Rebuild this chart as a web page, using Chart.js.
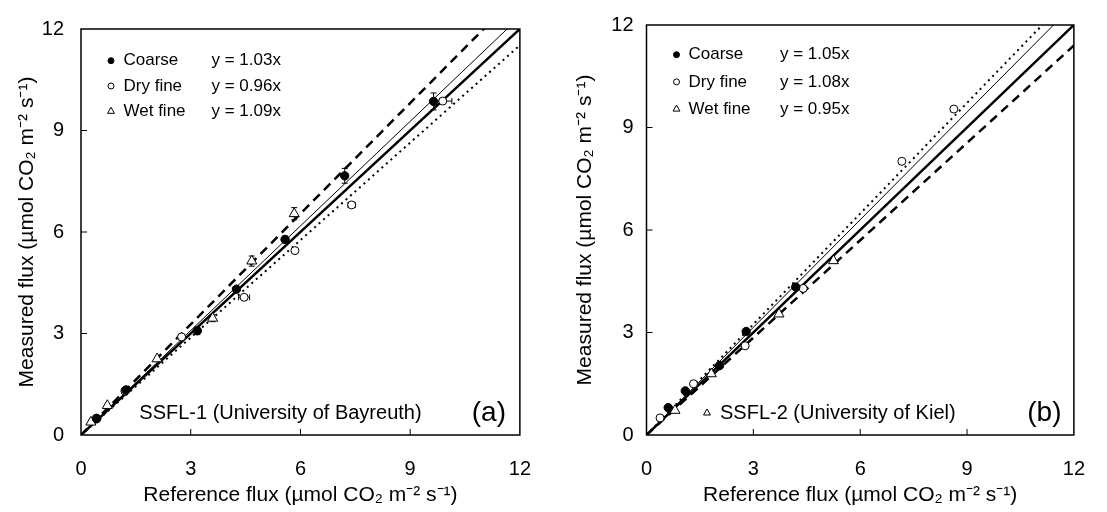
<!DOCTYPE html>
<html>
<head>
<meta charset="utf-8">
<script src="https://cdn.jsdelivr.net/npm/chart.js@4.4.1/dist/chart.umd.min.js"></script>
<style>
  html, body { margin: 0; padding: 0; background: #fff; }
  #wrap { position: relative; width: 1107px; height: 512px; }
  .panel { position: absolute; top: 0; }
  #panelA { left: 0; }
  #panelB { left: 553px; }
</style>
</head>
<body>
<div id="wrap">
  <div class="panel" id="panelA"><canvas id="chartA" width="553" height="512"></canvas></div>
  <div class="panel" id="panelB"><canvas id="chartB" width="554" height="512"></canvas></div>
</div>
<script>
// series names and axis ticks
const seriesNames = ["Coarse", "Dry fine", "Wet fine"];
const tickValues = [0, 3, 6, 9, 12];

// panel (a) - SSFL-1, [reference, measured]
const coarseA = [[0.43, 0.48], [1.23, 1.33], [3.18, 3.08], [4.25, 4.31], [5.58, 5.78], [7.21, 7.66], [9.64, 9.86]];
const dryFineA = [[0.42, 0.50], [1.20, 1.30], [2.75, 2.90], [4.46, 4.07], [5.85, 5.45], [7.40, 6.80], [9.89, 9.87]];
const wetFineA = [[0.27, 0.38], [0.72, 0.87], [2.08, 2.25], [3.60, 3.45], [4.67, 5.14], [5.83, 6.54]];
const slopesA = [1.03, 0.96, 1.09];
// error bars seen in panel (a): vertical for coarse / wet fine, horizontal for dry fine
const coarseErrA = [0, 0, 0.1, 0, 0.1, 0.22, 0.25];
const dryFineErrA = [0, 0, 0, 0.15, 0, 0.1, 0.25];
const wetFineErrA = [0, 0, 0, 0.1, 0.15, 0.18];

// panel (b) - SSFL-2
const coarseB = [[0.61, 0.80], [1.09, 1.29], [2.05, 2.03], [2.80, 3.03], [4.19, 4.33]];
const dryFineB = [[0.38, 0.50], [1.32, 1.50], [2.77, 2.61], [4.40, 4.29], [7.17, 8.01], [8.63, 9.54]];
const wetFineB = [[0.80, 0.72], [1.82, 1.79], [3.72, 3.54], [5.25, 5.10]];
const slopesB = [1.05, 1.08, 0.95];

const FONT = '"Liberation Sans", Arial, sans-serif';
const xTitle = "Reference flux (\u00b5mol CO\u2082 m\u207b\u00b2 s\u207b\u00b9)";
const yTitle = "Measured flux (\u00b5mol CO\u2082 m\u207b\u00b2 s\u207b\u00b9)";

// marker / line look for Coarse, Dry fine, Wet fine
const markers = [
  { pointStyle: "circle", fill: "#000", radius: 4.2 },
  { pointStyle: "circle", fill: "#fff", radius: 4 },
  { pointStyle: "triangle", fill: "#fff", radius: 5.8 }
];
const lineLook = [
  { borderWidth: 1, borderDash: [] },
  { borderWidth: 2, borderDash: [2, 4] },
  { borderWidth: 2.5, borderDash: [9, 6] }
];

function toXY(arr) {
  return arr.map(p => ({ x: p[0], y: p[1] }));
}

function drawMark(ctx, i, x, y, r) {
  ctx.fillStyle = markers[i].fill;
  ctx.strokeStyle = "#000";
  ctx.lineWidth = 1;
  Chart.helpers.drawPoint(ctx, { pointStyle: markers[i].pointStyle, radius: r, borderWidth: 1, rotation: 0 }, x, y);
}

// error bars, drawn under the markers
const errorBarPlugin = {
  id: "errbars",
  beforeDatasetsDraw(chart, args, opts) {
    if (!opts.pts) return;
    const { ctx, scales: { x, y } } = chart;
    ctx.save();
    ctx.strokeStyle = "#000";
    ctx.lineWidth = 1;
    ctx.beginPath();
    opts.pts.forEach((pts, s) => {
      pts.forEach((p, k) => {
        const e = opts.errs[s][k];
        if (!e) return;
        const px = x.getPixelForValue(p[0]), py = y.getPixelForValue(p[1]);
        if (opts.horiz[s]) {
          const x1 = x.getPixelForValue(p[0] - e), x2 = x.getPixelForValue(p[0] + e);
          ctx.moveTo(x1, py); ctx.lineTo(x2, py);
          ctx.moveTo(x1, py - 3); ctx.lineTo(x1, py + 3);
          ctx.moveTo(x2, py - 3); ctx.lineTo(x2, py + 3);
        } else {
          const y1 = y.getPixelForValue(p[1] - e), y2 = y.getPixelForValue(p[1] + e);
          ctx.moveTo(px, y1); ctx.lineTo(px, y2);
          ctx.moveTo(px - 3, y1); ctx.lineTo(px + 3, y1);
          ctx.moveTo(px - 3, y2); ctx.lineTo(px + 3, y2);
        }
      });
    });
    ctx.stroke();
    ctx.restore();
  }
};

const panelPlugin = {
  id: "panel",
  afterDraw(chart, args, opts) {
    const { ctx, chartArea: a, scales } = chart;
    const x = scales.x, y = scales.y;
    ctx.save();
    // frame + inward ticks
    ctx.strokeStyle = "#000";
    ctx.lineWidth = 1.5;
    ctx.strokeRect(a.left, a.top, a.right - a.left, a.bottom - a.top);
    ctx.lineWidth = 1;
    ctx.beginPath();
    tickValues.slice(1, -1).forEach(v => {
      const px = x.getPixelForValue(v), py = y.getPixelForValue(v);
      ctx.moveTo(px, a.bottom); ctx.lineTo(px, a.bottom - 6);
      ctx.moveTo(a.left, py); ctx.lineTo(a.left + 6, py);
    });
    ctx.stroke();

    // legend with fitted equations
    ctx.font = "17px " + FONT;
    ctx.textBaseline = "middle";
    ctx.textAlign = "left";
    opts.slopes.forEach((s, i) => {
      const ly = a.top + opts.legendTop + i * opts.legendStep;
      drawMark(ctx, i, a.left + opts.markX, ly, i === 2 ? 4 : 3);
      ctx.fillStyle = "#000";
      ctx.fillText(seriesNames[i], a.left + opts.textX, ly);
      ctx.fillText("y = " + s.toFixed(2) + "x", a.left + opts.eqX, ly);
    });

    // site label and panel letter
    const by = a.bottom - 22;
    if (opts.siteMark) drawMark(ctx, 2, a.left + opts.siteX - 13, by, 4);
    ctx.fillStyle = "#000";
    ctx.font = "20px " + FONT;
    ctx.fillText(opts.site, a.left + opts.siteX, by);
    ctx.font = "28px " + FONT;
    ctx.textAlign = "center";
    ctx.fillText(opts.letter, a.right - opts.letterX, by);
    ctx.restore();
  }
};

function makeChart(id, pts, slopes, o, errOpts) {
  const datasets = [];
  // 1:1 line
  datasets.push({
    data: [{ x: 0, y: 0 }, { x: 12, y: 12 }],
    showLine: true, borderColor: "#000", borderWidth: 2.5, pointRadius: 0, clip: 0, order: 3
  });
  slopes.forEach((s, i) => {
    datasets.push({
      data: [{ x: 0, y: 0 }, { x: 12, y: 12 * s }],
      showLine: true, borderColor: "#000", borderWidth: lineLook[i].borderWidth,
      borderDash: lineLook[i].borderDash, borderCapStyle: "butt", pointRadius: 0, clip: 0, order: 2
    });
  });
  pts.forEach((p, i) => {
    datasets.push({
      label: seriesNames[i],
      data: toXY(p),
      pointStyle: markers[i].pointStyle,
      pointRadius: markers[i].radius,
      pointBackgroundColor: markers[i].fill,
      pointBorderColor: "#000",
      pointBorderWidth: 1,
      showLine: false,
      order: 1
    });
  });

  return new Chart(document.getElementById(id), {
    type: "scatter",
    data: { datasets },
    options: {
      responsive: false,
      animation: false,
      events: [],
      layout: { padding: { top: o.top, right: o.right, left: 0, bottom: 0 } },
      plugins: {
        legend: { display: false },
        tooltip: { enabled: false },
        panel: o,
        errbars: errOpts || {}
      },
      scales: {
        x: {
          type: "linear", min: 0, max: 12,
          afterBuildTicks: s => { s.ticks = tickValues.map(v => ({ value: v })); },
          ticks: { color: "#000", font: { family: FONT, size: 20 }, padding: 22, maxRotation: 0 },
          grid: { display: false, drawTicks: false },
          border: { display: false },
          title: { display: true, text: xTitle, color: "#000", font: { family: FONT, size: 21 }, padding: { top: 0, bottom: 4 } },
          afterFit: s => { s.height = 77; }
        },
        y: {
          type: "linear", min: 0, max: 12,
          afterBuildTicks: s => { s.ticks = tickValues.map(v => ({ value: v })); },
          ticks: { color: "#000", font: { family: FONT, size: 20 }, padding: o.yPad },
          grid: { display: false, drawTicks: false },
          border: { display: false },
          title: { display: true, text: yTitle, color: "#000", font: { family: FONT, size: 21 }, padding: { top: o.yTitlePad, bottom: 0 } },
          afterFit: s => { s.width = o.left; }
        }
      }
    },
    plugins: [errorBarPlugin, panelPlugin]
  });
}

makeChart("chartA", [coarseA, dryFineA, wetFineA], slopesA, {
  top: 19, right: 30, left: 81, yPad: 17, yTitlePad: 15,
  slopes: slopesA, legendTop: 31.7, legendStep: 25.3, markX: 30, textX: 42.5, eqX: 130.5,
  site: "SSFL-1 (University of Bayreuth)", siteX: 58.3, siteMark: false, letter: "(a)", letterX: 31
}, {
  pts: [coarseA, dryFineA, wetFineA],
  errs: [coarseErrA, dryFineErrA, wetFineErrA],
  horiz: [false, true, false]
});

makeChart("chartB", [coarseB, dryFineB, wetFineB], slopesB, {
  top: 22, right: 13.5, left: 93.5, yPad: 13, yTitlePad: 20,
  slopes: slopesB, legendTop: 29.7, legendStep: 27.2, markX: 30, textX: 42, eqX: 133.5,
  site: "SSFL-2 (University of Kiel)", siteX: 73.5, siteMark: true, letter: "(b)", letterX: 29.5
});
</script>
</body>
</html>
